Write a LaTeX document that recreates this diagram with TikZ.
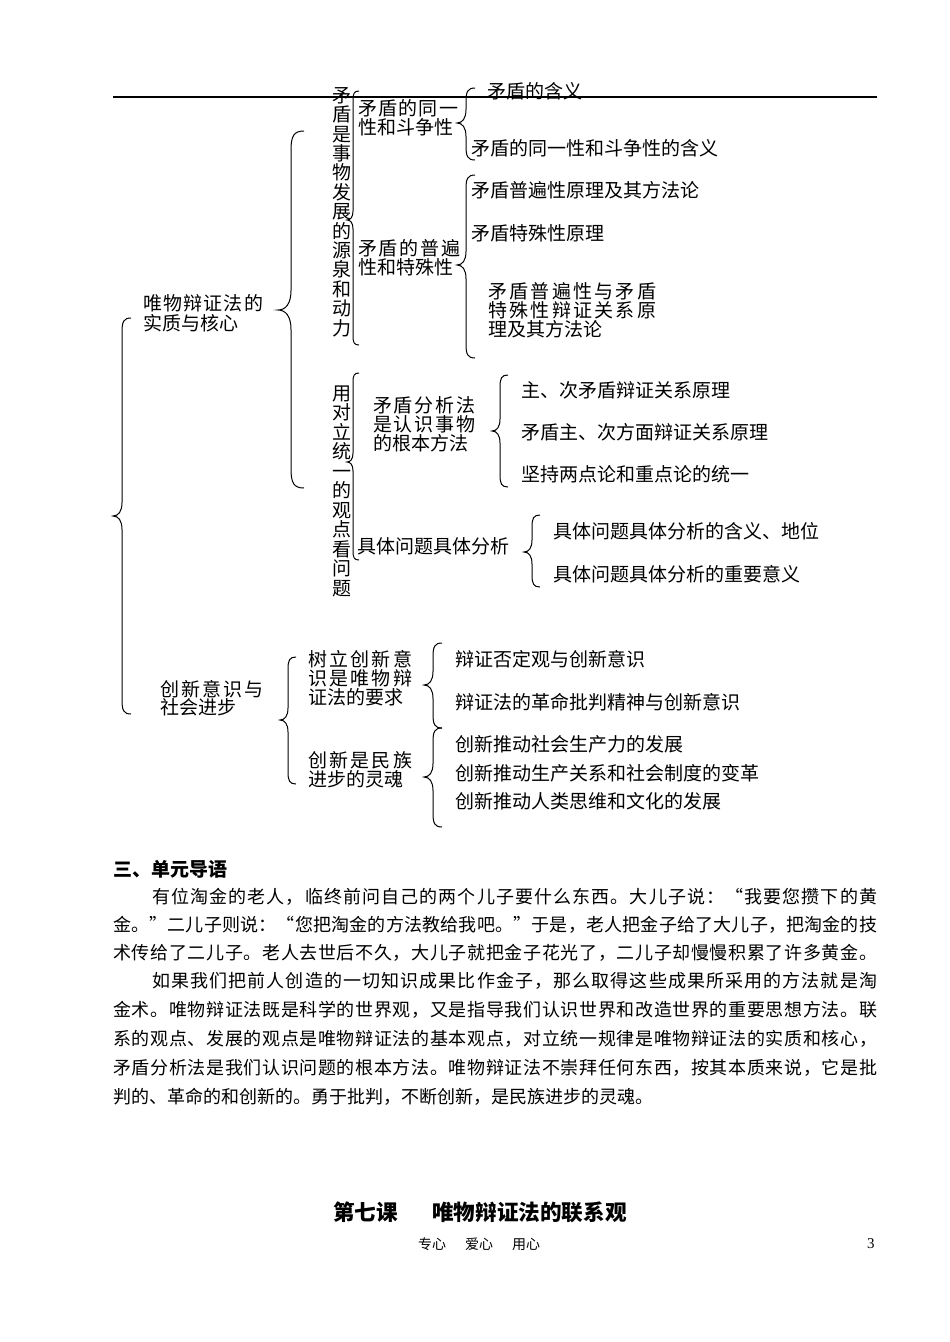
\documentclass[tikz,border=0pt]{standalone}
\usepackage{fontspec}
\setmainfont{Noto Sans CJK SC}
\newfontfamily\numfont{Liberation Serif}
% spread a run of characters evenly over a box: glue between every pair
\def\spreadit#1{\spreadA#1\endspread}
\def\spreadA#1#2{#1\ifx#2\endspread\else\hskip0pt plus1fil\expandafter\spreadA\expandafter#2\fi}
\newcommand\spreadbox[2]{\hbox to #1{\spreadit{#2}}}
% left curly brace: #1 x of stem, #2 top y, #3 tip y, #4 bottom y, #5 half width
\newcommand\mybrace[5]{%
  \draw[brc] (#1+#5,#2) .. controls (#1+0.2*#5,#2) and (#1,#2+0.4*#5) .. (#1,#2+1.5*#5)
    -- (#1,#3-1.5*#5) .. controls (#1,#3-0.5*#5) and (#1-0.4*#5,#3) .. (#1-#5,#3)
    .. controls (#1-0.4*#5,#3) and (#1,#3+0.5*#5) .. (#1,#3+1.5*#5)
    -- (#1,#4-1.5*#5) .. controls (#1,#4-0.4*#5) and (#1+0.2*#5,#4) .. (#1+#5,#4);}
\begin{document}
\begin{tikzpicture}[x=1pt,y=-1pt,
  lbl/.style={anchor=west,inner sep=0pt,font=\fontsize{19}{19}\selectfont,text height=15.8pt,text depth=1.3pt},
  vch/.style={inner sep=0pt,font=\fontsize{19}{19}\selectfont,text height=15.8pt,text depth=1.3pt},
  brc/.style={line width=1pt},
  para/.style={anchor=west,inner sep=0pt,font=\fontsize{18}{18}\selectfont,text height=15pt,text depth=1.3pt},
  head/.style={anchor=west,inner sep=0pt,font=\fontsize{19}{19}\selectfont\bfseries,text height=15.8pt,text depth=1.3pt},
  title/.style={anchor=west,inner sep=0pt,font=\fontsize{21.6}{21.6}\selectfont\bfseries,text height=17.9pt,text depth=1.5pt},
  foot/.style={anchor=west,inner sep=0pt,font=\fontsize{14}{14}\selectfont,text height=11.6pt,text depth=1pt},
]
\useasboundingbox (0,0) rectangle (950,1342);
\fill[white] (0,0) rectangle (950,1342);

% ---------- level 0 ----------
\node[lbl] (r1a) at (143,303) {\spreadbox{120pt}{唯物辩证法的}};
\node[lbl] (r1b) at (143,323) {实质与核心};
\node[lbl] (r2a) at (160,689) {\spreadbox{103pt}{创新意识与}};
\node[lbl] (r2b) at (160,707) {社会进步};

% ---------- vertical texts ----------
\foreach \c [count=\i from 0] in {矛,盾,是,事,物,发,展,的,源,泉,和,动,力}
  \node[vch] (va\i) at (342,95+19.4*\i) {\c};
\foreach \c [count=\i from 0] in {用,对,立,统,一,的,观,点,看,问,题}
  \node[vch] (vb\i) at (342,393+19.5*\i) {\c};

% ---------- contradiction identity ----------
\node[lbl] (ta1) at (358,108) {\spreadbox{100pt}{矛盾的同一}};
\node[lbl] (ta2) at (358,127) {性和斗争性};
\node[lbl] (la1) at (487,91) {矛盾的含义};
\node[lbl] (la2) at (471,148) {矛盾的同一性和斗争性的含义};

% ---------- universality ----------
\node[lbl] (tb1) at (358,248) {\spreadbox{102pt}{矛盾的普遍}};
\node[lbl] (tb2) at (358,267) {性和特殊性};
\node[lbl] (lb1) at (471,190) {矛盾普遍性原理及其方法论};
\node[lbl] (lb2) at (471,233) {矛盾特殊性原理};
\node[lbl] (lb3a) at (488,291) {\spreadbox{168pt}{矛盾普遍性与矛盾}};
\node[lbl] (lb3b) at (488,310) {\spreadbox{168pt}{特殊性辩证关系原}};
\node[lbl] (lb3c) at (488,329) {理及其方法论};

% ---------- analysis method ----------
\node[lbl] (tc1) at (373,405) {\spreadbox{102pt}{矛盾分析法}};
\node[lbl] (tc2) at (373,424) {\spreadbox{102pt}{是认识事物}};
\node[lbl] (tc3) at (373,443) {的根本方法};
\node[lbl] (lc1) at (521,390) {主、次矛盾辩证关系原理};
\node[lbl] (lc2) at (521,432) {矛盾主、次方面辩证关系原理};
\node[lbl] (lc3) at (521,474) {坚持两点论和重点论的统一};

% ---------- concrete analysis ----------
\node[lbl] (td) at (357,546) {具体问题具体分析};
\node[lbl] (ld1) at (553,531) {具体问题具体分析的含义、地位};
\node[lbl] (ld2) at (553,574) {具体问题具体分析的重要意义};

% ---------- innovation ----------
\node[lbl] (te1) at (308,659) {\spreadbox{104pt}{树立创新意}};
\node[lbl] (te2) at (308,678) {\spreadbox{104pt}{识是唯物辩}};
\node[lbl] (te3) at (308,697) {证法的要求};
\node[lbl] (tf1) at (308,760) {\spreadbox{104pt}{创新是民族}};
\node[lbl] (tf2) at (308,779) {进步的灵魂};
\node[lbl] (le1) at (455,659) {辩证否定观与创新意识};
\node[lbl] (le2) at (455,702) {辩证法的革命批判精神与创新意识};
\node[lbl] (lf1) at (455,744) {创新推动社会生产力的发展};
\node[lbl] (lf2) at (455,773) {创新推动生产关系和社会制度的变革};
\node[lbl] (lf3) at (455,801) {创新推动人类思维和文化的发展};

% ---------- braces ----------
\mybrace{122}{318}{516}{714}{9}
\mybrace{291}{131}{310}{488}{13}
\mybrace{353}{91}{220}{345}{6}
\mybrace{466}{88}{123}{160}{9}
\mybrace{466}{175}{265}{358}{9}
\mybrace{353}{373}{462}{560}{6}
\mybrace{500}{375}{431}{487}{8}
\mybrace{532}{515}{552}{587}{8}
\mybrace{288}{657}{720}{784}{8}
\mybrace{433}{643}{685}{728}{9}
\mybrace{433}{728}{777}{827}{9}

% ---------- header rule ----------
\coordinate (hl) at (113,97);
\coordinate (hr) at (877,97);
\draw[line width=1.2pt] (hl) -- (hr);

% ---------- text section ----------
\node[head] (h3) at (113,869) {三、单元导语};
\node[para] (p1) at (152,897) {\spreadbox{725pt}{有位淘金的老人，临终前问自己的两个儿子要什么东西。大儿子说：“我要您攒下的黄}};
\node[para] (p2) at (113,925) {\spreadbox{764pt}{金。”二儿子则说：“您把淘金的方法教给我吧。”于是，老人把金子给了大儿子，把淘金的技}};
\node[para] (p3) at (113,953) {\spreadbox{764pt}{术传给了二儿子。老人去世后不久，大儿子就把金子花光了，二儿子却慢慢积累了许多黄金。}};
\node[para] (p4) at (152,981) {\spreadbox{725pt}{如果我们把前人创造的一切知识成果比作金子，那么取得这些成果所采用的方法就是淘}};
\node[para] (p5) at (113,1010) {\spreadbox{764pt}{金术。唯物辩证法既是科学的世界观，又是指导我们认识世界和改造世界的重要思想方法。联}};
\node[para] (p6) at (113,1039) {\spreadbox{764pt}{系的观点、发展的观点是唯物辩证法的基本观点，对立统一规律是唯物辩证法的实质和核心，}};
\node[para] (p7) at (113,1068) {\spreadbox{764pt}{矛盾分析法是我们认识问题的根本方法。唯物辩证法不崇拜任何东西，按其本质来说，它是批}};
\node[para] (p8) at (113,1097) {判的、革命的和创新的。勇于批判，不断创新，是民族进步的灵魂。};

% ---------- lesson title and footer ----------
\node[title] (t7a) at (333,1212) {第七课};
\node[title] (t7b) at (432,1212) {唯物辩证法的联系观};
\node[foot] (ft) at (418,1244) {专心\hspace{19pt}爱心\hspace{19pt}用心};
\node[anchor=west,inner sep=0pt,font=\numfont\fontsize{15}{15}\selectfont] (pg) at (867,1244) {3};
\end{tikzpicture}
\end{document}
